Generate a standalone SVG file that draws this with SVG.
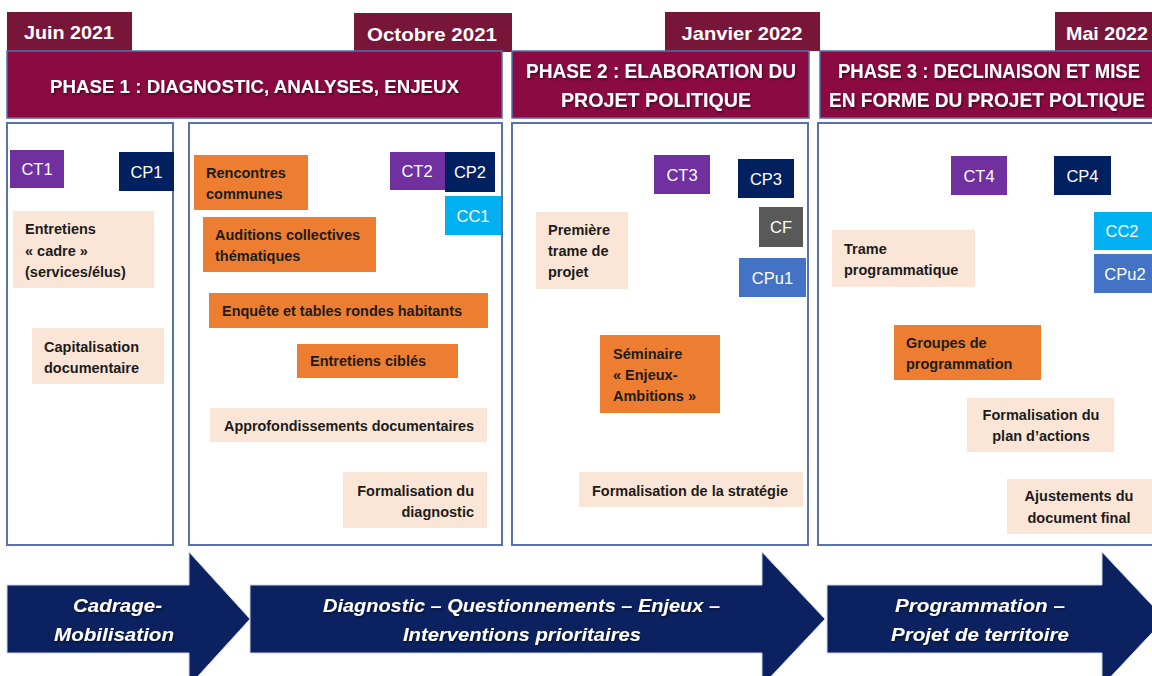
<svg xmlns="http://www.w3.org/2000/svg" width="1152" height="676" viewBox="0 0 1152 676">
<defs>
<filter id="sh" x="-5%" y="-20%" width="110%" height="150%">
<feDropShadow dx="1" dy="1.5" stdDeviation="1" flood-color="#000" flood-opacity="0.55"/>
</filter>
<style>
.tab{fill:#78163a}
.hdr{fill:#8b0a41;stroke:#4f6fa8;stroke-width:1.5}
.frame{fill:#fff;stroke:#5674ab;stroke-width:2}
.peach{fill:#fbe5d6}
.orange{fill:#ed7d31}
.ct{fill:#7030a0}
.cp{fill:#002060}
.cc{fill:#00b0f0}
.cf{fill:#595959}
.cpu{fill:#4472c4}
.arrow{fill:#0c2260;stroke:#c9d3e8;stroke-width:1}
.t{font-family:"Liberation Sans",Arial,sans-serif;font-weight:bold;font-size:14.5px;fill:#1c1c1c}
.r{text-anchor:end}
.m{text-anchor:middle}
.tag{font-family:"Liberation Sans",Arial,sans-serif;font-size:16.5px;fill:#fff;text-anchor:middle}
.date{font-family:"Liberation Sans",Arial,sans-serif;font-weight:bold;font-size:19px;fill:#fff;text-anchor:middle}
.ph{font-family:"Liberation Sans",Arial,sans-serif;font-weight:bold;font-size:18.5px;fill:#fff;text-anchor:middle}
.ph2{font-size:19.5px}
.ar{font-family:"Liberation Sans",Arial,sans-serif;font-weight:bold;font-style:italic;font-size:18.5px;fill:#fff;text-anchor:middle}
</style>
</defs>
<rect width="1152" height="676" fill="#fff"/>

<g id="dates">
<g id="date-juin"><rect class="tab" x="7" y="12" width="125" height="39"/><text class="date" x="69" y="39" textLength="90" lengthAdjust="spacingAndGlyphs">Juin 2021</text></g>
<g id="date-octobre"><rect class="tab" x="354" y="13" width="158" height="39"/><text class="date" x="432" y="41" textLength="130" lengthAdjust="spacingAndGlyphs">Octobre 2021</text></g>
<g id="date-janvier"><rect class="tab" x="665" y="12" width="155" height="39"/><text class="date" x="742" y="40" textLength="121" lengthAdjust="spacingAndGlyphs">Janvier 2022</text></g>
<g id="date-mai"><rect class="tab" x="1055" y="12" width="110" height="39"/><text class="date" x="1107" y="40" textLength="82" lengthAdjust="spacingAndGlyphs">Mai 2022</text></g>
</g>

<g id="phase1-header"><rect class="hdr" x="7" y="51" width="495" height="67"/><text class="ph" filter="url(#sh)" x="254.5" y="93" textLength="409" lengthAdjust="spacingAndGlyphs">PHASE 1 : DIAGNOSTIC, ANALYSES, ENJEUX</text></g>
<g id="phase2-header"><rect class="hdr" x="512" y="51" width="297" height="67"/><text class="ph ph2" filter="url(#sh)" x="661" y="78" textLength="270" lengthAdjust="spacingAndGlyphs">PHASE 2 : ELABORATION DU</text><text class="ph ph2" filter="url(#sh)" x="656" y="107" textLength="190" lengthAdjust="spacingAndGlyphs">PROJET POLITIQUE</text></g>
<g id="phase3-header"><rect class="hdr" x="820" y="51" width="345" height="67"/><text class="ph ph2" filter="url(#sh)" x="989" y="78" textLength="302" lengthAdjust="spacingAndGlyphs">PHASE 3 : DECLINAISON ET MISE</text><text class="ph ph2" filter="url(#sh)" x="987" y="107" textLength="316" lengthAdjust="spacingAndGlyphs">EN FORME DU PROJET POLTIQUE</text></g>

<g id="frames">
<rect id="frame-a" class="frame" x="7" y="123" width="166" height="422"/>
<rect id="frame-b" class="frame" x="189" y="123" width="313" height="422"/>
<rect id="frame-c" class="frame" x="512" y="123" width="296" height="422"/>
<rect id="frame-d" class="frame" x="818" y="123" width="345" height="422"/>
</g>

<g id="ct1"><rect class="ct" x="10" y="150" width="54" height="38"/><text class="tag" x="37" y="175">CT1</text></g>
<g id="cp1"><rect class="cp" x="119" y="152" width="55" height="39"/><text class="tag" x="146.5" y="177.5">CP1</text></g>
<g id="entretiens-cadre"><rect class="peach" x="13" y="211" width="141" height="77"/><text class="t" x="25" y="234">Entretiens</text><text class="t" x="25" y="256">« cadre »</text><text class="t" x="25" y="277">(services/élus)</text></g>
<g id="capitalisation"><rect class="peach" x="32" y="328" width="132" height="56"/><text class="t" x="44" y="352">Capitalisation</text><text class="t" x="44" y="373">documentaire</text></g>

<g id="rencontres"><rect class="orange" x="194" y="155" width="114" height="55"/><text class="t" x="206" y="178">Rencontres</text><text class="t" x="206" y="199">communes</text></g>
<g id="ct2"><rect class="ct" x="390" y="152" width="56" height="38"/><text class="tag" x="417" y="177">CT2</text></g>
<g id="cp2"><rect class="cp" x="445" y="152" width="50" height="40"/><text class="tag" x="470" y="178">CP2</text></g>
<g id="cc1"><rect class="cc" x="445" y="196" width="56" height="39"/><text class="tag" x="473" y="221.5">CC1</text></g>
<g id="auditions"><rect class="orange" x="203" y="217" width="173" height="55"/><text class="t" x="215" y="240">Auditions collectives</text><text class="t" x="215" y="261">thématiques</text></g>
<g id="enquete"><rect class="orange" x="209" y="293" width="279" height="35"/><text class="t" x="222" y="316" textLength="240" lengthAdjust="spacingAndGlyphs">Enquête et tables rondes habitants</text></g>
<g id="entretiens-cibles"><rect class="orange" x="297" y="344" width="161" height="34"/><text class="t" x="310" y="366">Entretiens ciblés</text></g>
<g id="approfondissements"><rect class="peach" x="210" y="408" width="277" height="34"/><text class="t" x="224" y="431" textLength="250" lengthAdjust="spacingAndGlyphs">Approfondissements documentaires</text></g>
<g id="formalisation-diagnostic"><rect class="peach" x="343" y="472" width="144" height="56"/><text class="t r" x="474" y="496">Formalisation du</text><text class="t r" x="474" y="517">diagnostic</text></g>

<g id="ct3"><rect class="ct" x="654" y="155" width="56" height="39"/><text class="tag" x="682" y="180.5">CT3</text></g>
<g id="cp3"><rect class="cp" x="738" y="159" width="56" height="39"/><text class="tag" x="766" y="184.5">CP3</text></g>
<g id="cf"><rect class="cf" x="759" y="207" width="44" height="40"/><text class="tag" x="781" y="233">CF</text></g>
<g id="cpu1"><rect class="cpu" x="739" y="258" width="67" height="39"/><text class="tag" x="772.5" y="283.5">CPu1</text></g>
<g id="premiere-trame"><rect class="peach" x="536" y="212" width="92" height="77"/><text class="t" x="548" y="235">Première</text><text class="t" x="548" y="256">trame de</text><text class="t" x="548" y="277">projet</text></g>
<g id="seminaire"><rect class="orange" x="600" y="335" width="120" height="78"/><text class="t" x="613" y="359">Séminaire</text><text class="t" x="613" y="380">« Enjeux-</text><text class="t" x="613" y="401">Ambitions »</text></g>
<g id="formalisation-strategie"><rect class="peach" x="579" y="472" width="224" height="35"/><text class="t" x="592" y="496" textLength="196" lengthAdjust="spacingAndGlyphs">Formalisation de la stratégie</text></g>

<g id="ct4"><rect class="ct" x="951" y="156" width="56" height="39"/><text class="tag" x="979" y="181.5">CT4</text></g>
<g id="cp4"><rect class="cp" x="1054" y="156" width="57" height="39"/><text class="tag" x="1082.5" y="181.5">CP4</text></g>
<g id="cc2"><rect class="cc" x="1094" y="212" width="58" height="38"/><text class="tag" x="1122" y="237">CC2</text></g>
<g id="cpu2"><rect class="cpu" x="1094" y="254" width="67" height="39"/><text class="tag" x="1125" y="279.5">CPu2</text></g>
<g id="trame-programmatique"><rect class="peach" x="832" y="230" width="143" height="57"/><text class="t" x="844" y="254">Trame</text><text class="t" x="844" y="275">programmatique</text></g>
<g id="groupes-programmation"><rect class="orange" x="894" y="325" width="147" height="55"/><text class="t" x="906" y="348">Groupes de</text><text class="t" x="906" y="369">programmation</text></g>
<g id="formalisation-plan"><rect class="peach" x="967" y="398" width="147" height="54"/><text class="t m" x="1041" y="420">Formalisation du</text><text class="t m" x="1041" y="441">plan d’actions</text></g>
<g id="ajustements"><rect class="peach" x="1007" y="479" width="150" height="55"/><text class="t m" x="1079" y="501">Ajustements du</text><text class="t m" x="1079" y="523">document final</text></g>

<g id="connectors">
<g id="arrow-cadrage"><polygon class="arrow" points="7,585 189,585 189,552 250,619 189,686 189,653 7,653"/><text class="ar" filter="url(#sh)" x="117.5" y="612" textLength="89" lengthAdjust="spacingAndGlyphs">Cadrage-</text><text class="ar" filter="url(#sh)" x="114" y="641" textLength="120" lengthAdjust="spacingAndGlyphs">Mobilisation</text></g>
<g id="arrow-diagnostic"><polygon class="arrow" points="250,585 762,585 762,552 825,619 762,686 762,653 250,653"/><text class="ar" filter="url(#sh)" x="521.5" y="612" textLength="397" lengthAdjust="spacingAndGlyphs">Diagnostic – Questionnements – Enjeux –</text><text class="ar" filter="url(#sh)" x="522" y="641" textLength="238" lengthAdjust="spacingAndGlyphs">Interventions prioritaires</text></g>
<g id="arrow-programmation"><polygon class="arrow" points="827,585 1102,585 1102,552 1165,619 1102,686 1102,653 827,653"/><text class="ar" filter="url(#sh)" x="980" y="612" textLength="170" lengthAdjust="spacingAndGlyphs">Programmation –</text><text class="ar" filter="url(#sh)" x="980" y="641" textLength="178" lengthAdjust="spacingAndGlyphs">Projet de territoire</text></g>
</g>
</svg>
